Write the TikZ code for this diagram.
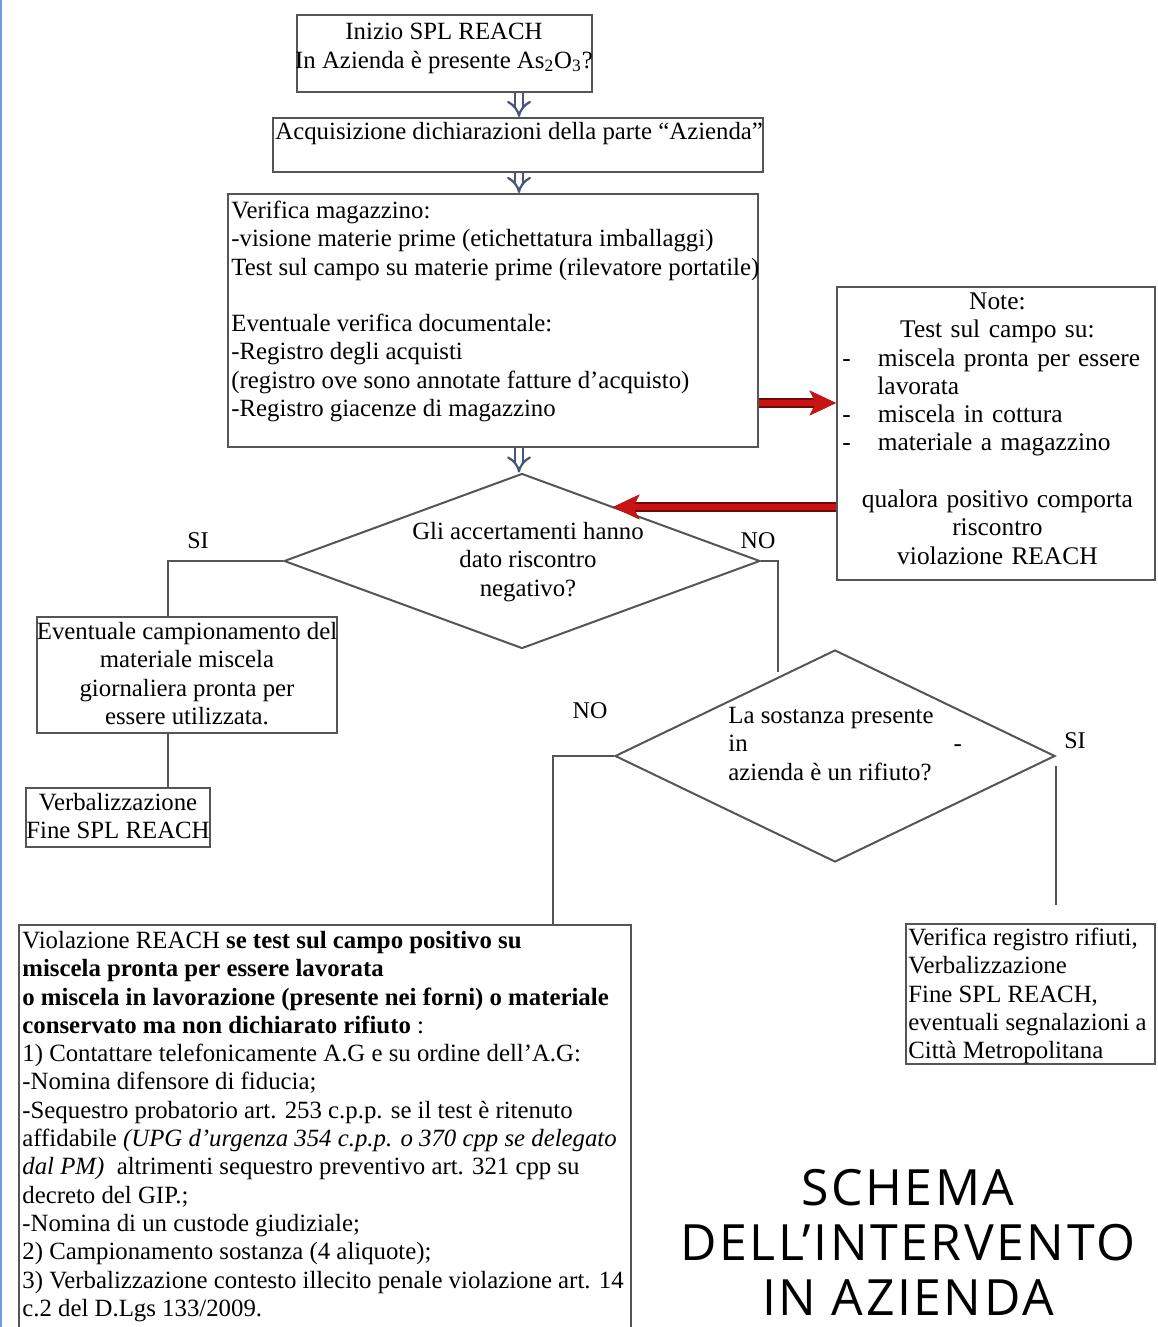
\documentclass[tikz,border=0pt]{standalone}
\usepackage{fontspec}
\setmainfont{Liberation Serif}
\newfontfamily\schemafont[LetterSpace=5]{Open Sans}
\usetikzlibrary{shapes.geometric,arrows.meta,fit,calc}
\definecolor{boxline}{RGB}{85,85,85}
\definecolor{arrowblue}{RGB}{70,85,120}
\definecolor{redfill}{RGB}{200,20,20}
\definecolor{reddark}{RGB}{110,10,10}
\definecolor{edgeblue}{RGB}{110,160,225}
\newcommand\fst{\rule{0pt}{10pt}}
\newcommand\fA{\fontsize{12.4}{14.15}\selectfont}
\newcommand\fB{\fontsize{12.4}{14.5}\selectfont}
\newcommand\fN{\fontsize{12.7}{14.15}\selectfont}
\begin{document}
\begin{tikzpicture}[x=0.5pt,y=-0.5pt,
  box/.style={draw=boxline, line width=1pt, inner sep=0pt},
  dia/.style={diamond, draw=boxline, line width=1pt, inner sep=0pt},
  ln/.style={draw=boxline, line width=1pt},
  tl/.style={anchor=north west, inner sep=0pt, align=left, font=\fA},
  tc/.style={anchor=north, inner sep=0pt, align=center, font=\fA},
  lbl/.style={inner sep=0pt, font=\fontsize{12}{14}\selectfont},
  dar/.style={draw=arrowblue, line width=1.1pt, double=white, double distance=3pt, -{Implies}},
  redarrow/.style={draw=redfill, line width=3pt, -{Stealth[length=13pt,width=12pt,inset=3pt]},
     preaction={draw=reddark, line width=4.6pt}}
]
\useasboundingbox (0,0) rectangle (1157,1327);
\clip (0,0) rectangle (1157,1327);

\coordinate (col) at (519,0);

% boxes
\node[box, fit={(297,15)(592,92)}] (b1) {};
\node[box, fit={(273,118)(763,172)}] (b2) {};
\node[box, fit={(228,194)(758,447)}] (b3) {};
\node[box, fit={(837,287)(1155,580)}] (b8) {};
\node[box, fit={(37,617)(337,733)}] (b4) {};
\node[box, fit={(26,788)(210,847)}] (b5) {};
\node[box, fit={(906,924)(1155,1064)}] (b7) {};
\node[box, fit={(19,925)(631,1360)}] (b6) {};

% diamonds
\node[dia, minimum width=238pt, minimum height=87.5pt] (d1) at (522,561) {};
\node[dia, minimum width=220pt, minimum height=106pt] (d2) at (835,756) {};

% texts
\node[tc, font=\fB] (t1) at (444,19) {\fst Inizio SPL REACH\\In Azienda è presente As\textsubscript{2}O\textsubscript{3}?};
\node[tl] (t2) at (275,119) {\fst Acquisizione dichiarazioni della parte “Azienda”};
\node[tl] (t3) at (231,198) {\fst Verifica magazzino:\\
-visione materie prime (etichettatura imballaggi)\\
Test sul campo su materie prime (rilevatore portatile)\\[14.15pt]
Eventuale verifica documentale:\\
-Registro degli acquisti\\
(registro ove sono annotate fatture d’acquisto)\\
-Registro giacenze di magazzino};
\node[tl, text width=155pt, align=center, font=\fN] (t8) at (842,289) {\fst Note:\\
Test sul campo su:\\
\makebox[155pt][l]{-\hspace{13.5pt}miscela pronta per essere}\\
\makebox[155pt][l]{\hspace{17.5pt}lavorata}\\
\makebox[155pt][l]{-\hspace{13.5pt}miscela in cottura}\\
\makebox[155pt][l]{-\hspace{13.5pt}materiale a magazzino}\\[14.15pt]
qualora positivo comporta\\
riscontro\\
violazione REACH};
\node[tc] (t4) at (187,619) {\fst Eventuale campionamento del\\materiale miscela\\giornaliera pronta per\\essere utilizzata.};
\node[tc] (t5) at (118,790) {\fst Verbalizzazione\\Fine SPL REACH};
\node[tc] (td1) at (528,519) {\fst Gli accertamenti hanno\\dato riscontro\\negativo?};
\node[tl] (td2) at (728,703) {\fst La sostanza presente\\in\hspace{103pt}-\\azienda è un rifiuto?};
\node[tl] (t7) at (908,925) {\fst Verifica registro rifiuti,\\Verbalizzazione\\Fine SPL REACH,\\eventuali segnalazioni a\\Città Metropolitana};
\node[tl] (t6) at (22,928) {\fst Violazione REACH \textbf{se test sul campo positivo su}\\
\textbf{miscela pronta per essere lavorata}\\
\textbf{o miscela in lavorazione (presente nei forni) o materiale}\\
\textbf{conservato ma non dichiarato rifiuto} :\\
1) Contattare telefonicamente A.G e su ordine dell’A.G:\\
-Nomina difensore di fiducia;\\
-Sequestro probatorio art. 253 c.p.p. se il test è ritenuto\\
affidabile \textit{(UPG d’urgenza 354 c.p.p. o 370 cpp se delegato}\\
\textit{dal PM)}\enspace altrimenti sequestro preventivo art. 321 cpp su\\
decreto del GIP.;\\
-Nomina di un custode giudiziale;\\
2) Campionamento sostanza (4 aliquote);\\
3) Verbalizzazione contesto illecito penale violazione art. 14\\
c.2 del D.Lgs 133/2009.};

\node[anchor=north, inner sep=0pt, align=center, font={\schemafont\fontsize{25}{27.5}\selectfont}] (ts) at (908,1165)
  {\rule{0pt}{20pt}SCHEMA\\DELL’INTERVENTO\\IN AZIENDA};

% labels
\node[lbl] (lsi1) at (198,541) {SI};
\node[lbl] (lno1) at (758,541) {NO};
\node[lbl] (lno2) at (590,711) {NO};
\node[lbl] (lsi2) at (1075,741) {SI};

% hollow arrows
\draw[dar] (b1.south -| col) -- (b2.north -| col);
\draw[dar] (b2.south -| col) -- (b3.north -| col);
\draw[dar] (b3.south -| col) -- (d1.north -| col);

% connectors
\coordinate (xsi) at (168,0);
\draw[ln] (d1.west) -| (xsi |- b4.north);
\draw[ln] (xsi |- b4.south) -- (xsi |- b5.north);
\coordinate (n1) at (778,672);
\draw[ln] (d1.east) -| (n1);
\coordinate (xno) at (553,0);
\draw[ln] (d2.west) -| (xno |- b6.north);
\draw[ln, shorten <=5pt, shorten >=9pt] (d2.east) -- (d2.east |- b7.north);

% red arrows
\coordinate (r1) at (0,403);
\coordinate (r2end) at (613,507);
\draw[redarrow] (b3.east |- r1) -- (b8.west |- r1);
\draw[redarrow] (b8.west |- r2end) -- (r2end);

% left edge line
\draw[edgeblue, line width=1pt] (1,0) -- (1,1327);
\end{tikzpicture}
\end{document}
